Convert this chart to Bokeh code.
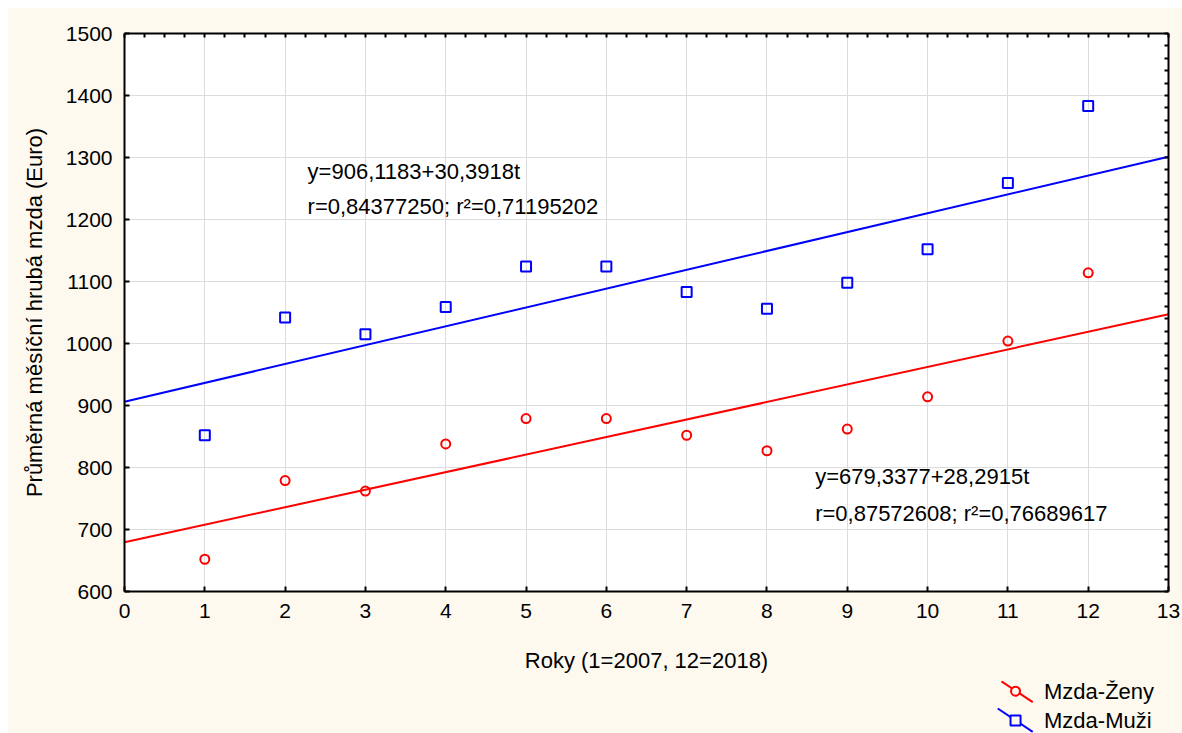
from bokeh.plotting import figure
from bokeh.layouts import column
from bokeh.models import Range1d, LinearAxis, FixedTicker, Label
from bokeh.core.properties import value
from bokeh.embed import file_html
from bokeh.resources import INLINE

# Average gross monthly wage by year (t = 1 is 2007, t = 12 is 2018)
years = [1, 2, 3, 4, 5, 6, 7, 8, 9, 10, 11, 12]
wage_women = [652, 779, 762, 838, 879, 879, 852, 827, 862, 914, 1004, 1114]
wage_men = [852, 1042, 1015, 1059, 1124, 1124, 1083, 1056, 1098, 1152, 1259, 1383]

# Linear trend fits, as printed on the chart
fit_men = (906.1183, 30.3918)
fit_women = (679.3377, 28.2915)
fit_men_text = ["y=906,1183+30,3918t", "r=0,84377250; r\u00b2=0,71195202"]
fit_women_text = ["y=679,3377+28,2915t", "r=0,87572608; r\u00b2=0,76689617"]

legend_labels = ["Mzda-\u017deny", "Mzda-Mu\u017ei"]

x_ticks = list(range(0, 14))
y_ticks = list(range(600, 1501, 100))

FONT = "Liberation Sans"
CREAM = "#FDF9EF"
RED = "#FF0000"
BLUE = "#0000FF"

p = figure(width=1174, height=672, output_backend="svg", toolbar_location=None,
           x_range=Range1d(0, 13), y_range=Range1d(600, 1500),
           x_axis_label="Roky (1=2007, 12=2018)",
           y_axis_label="Pr\u016fm\u011brn\u00e1 m\u011bs\u00ed\u010dn\u00ed hrub\u00e1 mzda (Euro)",
           min_border_left=116, min_border_right=14, min_border_top=25,
           min_border_bottom=89)
p.margin = (0, 0, 0, 0)
p.background_fill_color = "white"
p.border_fill_color = CREAM
p.outline_line_color = None


def style_axis(ax):
    ax.axis_line_color = "black"
    ax.axis_line_width = 2
    ax.major_tick_in = 5
    ax.major_tick_out = 0
    ax.minor_tick_in = 3
    ax.minor_tick_out = 0
    ax.major_tick_line_color = "black"
    ax.major_tick_line_width = 2
    ax.minor_tick_line_color = "black"
    ax.minor_tick_line_width = 2
    ax.major_label_text_font = FONT
    ax.major_label_text_font_size = "21px"
    ax.major_label_text_color = "black"
    ax.axis_label_text_font = FONT
    ax.axis_label_text_font_size = "22px"
    ax.axis_label_text_font_style = "normal"
    ax.axis_label_text_color = "black"


xt = FixedTicker(ticks=x_ticks, num_minor_ticks=4)
yt = FixedTicker(ticks=y_ticks, num_minor_ticks=5)

p.xaxis.ticker = xt
p.yaxis.ticker = yt
for ax in p.xaxis:
    style_axis(ax)
    ax.major_label_standoff = 12
    ax.axis_label_standoff = 27
for ax in p.yaxis:
    style_axis(ax)
    ax.major_label_standoff = 12
    ax.axis_label_standoff = 16

# top and right frame edges: inward ticks only, no labels
x_marks = [i / 4 for i in range(0, 13 * 4 + 1)]
y_marks = [600 + 20 * i for i in range(0, 46)]
top = LinearAxis(ticker=FixedTicker(ticks=[], minor_ticks=x_marks))
right = LinearAxis(ticker=FixedTicker(ticks=[], minor_ticks=y_marks))
for ax in (top, right):
    style_axis(ax)
    ax.minor_tick_in = 4
    ax.major_label_standoff = 0
p.add_layout(top, "above")
p.add_layout(right, "right")

p.xgrid.ticker = xt
p.ygrid.ticker = yt
p.grid.grid_line_color = "#DCDCDC"
p.grid.grid_line_width = 1

# trend lines across the whole x range
x_line = [0, 13]
men_line = [fit_men[0] + fit_men[1] * x for x in x_line]
women_line = [fit_women[0] + fit_women[1] * x for x in x_line]
p.line(x_line, women_line, line_color=RED, line_width=2)
p.line(x_line, men_line, line_color=BLUE, line_width=2)

p.scatter(years, wage_women, marker="circle", size=9,
          fill_color=None, line_color=RED, line_width=2)
p.scatter(years, wage_men, marker="square", size=10,
          fill_color=None, line_color=BLUE, line_width=2)

# fit statistics
for (tx, ty), txt in zip([(2.28, 1277), (2.28, 1221)], fit_men_text):
    p.add_layout(Label(x=tx, y=ty, text=txt, text_baseline="middle",
                       text_font=FONT, text_font_size="22px", text_color="black"))
for (tx, ty), txt in zip([(8.6, 785.5), (8.6, 726.6)], fit_women_text):
    p.add_layout(Label(x=tx, y=ty, text=txt, text_baseline="middle",
                       text_font=FONT, text_font_size="22px", text_color="black"))

# legend strip under the chart, drawn in pixel-like coordinates
lg = figure(width=1174, height=53, output_backend="svg", toolbar_location=None,
            x_range=Range1d(8, 1182), y_range=Range1d(733, 680),
            min_border=0, min_border_left=0, min_border_right=0,
            min_border_top=0, min_border_bottom=0)
lg.margin = (0, 0, 0, 0)
lg.axis.visible = False
lg.grid.visible = False
lg.outline_line_color = None
lg.background_fill_color = CREAM
lg.border_fill_color = CREAM

# swatch line runs with slope 23.4/39.3 through the marker
swatch_lines = [([994.2, 1029.3], [680.8, 701.7]), ([990, 1029.3], [708, 731.3])]
row_y = [690.7, 720]
colors = [RED, BLUE]
markers = ["circle", "square"]
msizes = [9, 10]
for (lx, ly), ry, c, m, ms, lab in zip(swatch_lines, row_y, colors, markers,
                                       msizes, legend_labels):
    lg.line(lx, ly, line_color=c, line_width=2)
    lg.scatter([1010], [ry], marker=m, size=ms, fill_color=CREAM,
               line_color=c, line_width=2)
    lg.text([1042], [ry], text=[lab], text_baseline="middle",
            text_font=value(FONT), text_font_size="22px", text_color="black")

page = column(p, lg, spacing=0, margin=(8, 0, 0, 8),
              styles={"background-color": CREAM})
open("out.html", "w").write(file_html(page, INLINE))
